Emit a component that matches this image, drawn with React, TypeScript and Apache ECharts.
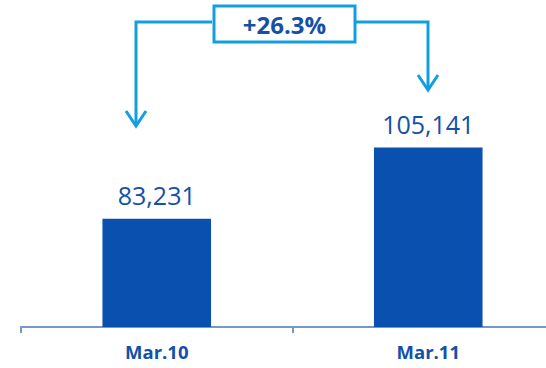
import React, { useEffect, useRef } from "react";
import * as echarts from "echarts";

const categories = ["Mar.10", "Mar.11"];
const values = [83231, 105141];
const changeLabel = "+26.3%";

const BAR = "#0a50ae";
const TEXT = "#1450a8";
const ARROW = "#129fe2";

export default function App() {
  const ref = useRef<HTMLDivElement>(null);
  useEffect(() => {
    if (!ref.current) return;
    const chart = echarts.init(ref.current, null, { renderer: "svg" });
    const fmt = (v: number) => v.toLocaleString("en-US");
    chart.setOption({
      animation: false,
      grid: { left: 21, right: 6, top: 34, bottom: 41, containLabel: false },
      xAxis: {
        type: "category",
        data: categories,
        axisLine: { show: true, lineStyle: { color: "#7399cc", width: 2 } },
        axisTick: { show: true, length: 6, lineStyle: { color: "#7399cc", width: 2 } },
        axisLabel: {
          color: TEXT,
          fontFamily: "Open Sans",
          fontWeight: "bold",
          fontSize: 18.5,
          margin: 15,
        },
      },
      yAxis: {
        type: "value",
        min: 50000,
        max: 140000,
        show: false,
        splitLine: { show: false },
      },
      series: [
        {
          type: "bar",
          data: values,
          barWidth: "40%",
          itemStyle: { color: BAR },
          label: {
            show: true,
            position: "top",
            distance: 11,
            color: TEXT,
            fontFamily: "Open Sans",
            fontSize: 25,
            formatter: (p: any) => fmt(p.value),
          },
        },
      ],
      graphic: [
        {
          type: "polyline",
          shape: { points: [[212, 22], [136, 22], [136, 126]] },
          style: { stroke: ARROW, lineWidth: 3, fill: null },
        },
        {
          type: "polyline",
          shape: { points: [[126, 111], [136, 126], [146, 111]] },
          style: { stroke: ARROW, lineWidth: 3, fill: null },
        },
        {
          type: "polyline",
          shape: { points: [[356, 22], [428, 22], [428, 90]] },
          style: { stroke: ARROW, lineWidth: 3, fill: null },
        },
        {
          type: "polyline",
          shape: { points: [[418, 75], [428, 90], [438, 75]] },
          style: { stroke: ARROW, lineWidth: 3, fill: null },
        },
        {
          type: "rect",
          shape: { x: 214, y: 6, width: 141, height: 36 },
          style: { stroke: ARROW, lineWidth: 3, fill: "#fff" },
        },
        {
          type: "text",
          x: 284.5,
          y: 24,
          style: {
            text: changeLabel,
            fill: TEXT,
            font: "bold 24px 'Open Sans'",
            align: "center",
            verticalAlign: "middle",
          },
        },
      ],
    });
    return () => chart.dispose();
  }, []);
  return (
    <div style={{ position: "fixed", left: 0, top: 0, width: 546, height: 368, overflow: "hidden", background: "#fff" }}>
      <div ref={ref} style={{ width: 570, height: 368 }} />
    </div>
  );
}
